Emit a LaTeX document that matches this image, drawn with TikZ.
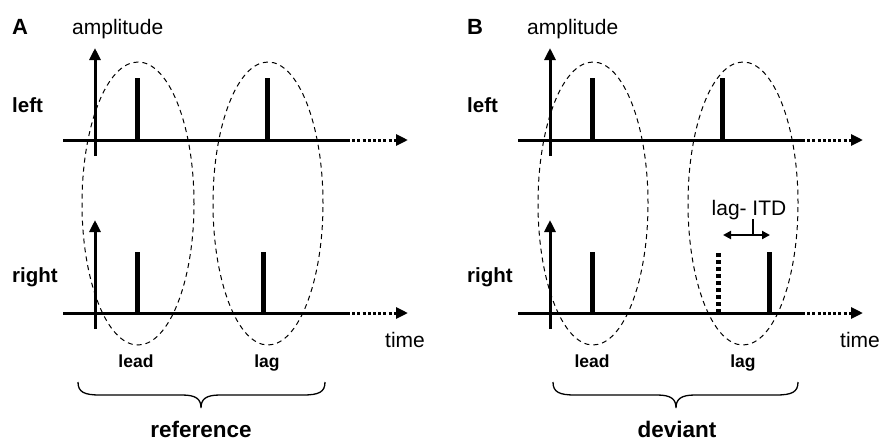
\documentclass[tikz,border=0pt]{standalone}
\usepackage{fontspec}
\setmainfont{Liberation Sans}
\usetikzlibrary{arrows.meta}
\begin{document}
\begin{tikzpicture}[x=1pt,y=-1pt,
  axis/.style={line width=3pt},
  dotline/.style={line width=3pt, dash pattern=on 3pt off 2.2pt},
  tipped/.style={-{Triangle[length=12pt,width=11pt]}},
  spike/.style={line width=5pt},
  dotspike/.style={line width=5pt, dash pattern=on 4pt off 3pt},
  oval/.style={line width=1pt, dash pattern=on 5pt off 4pt},
  bracepath/.style={line width=1.3pt},
  txt/.style={inner sep=0pt, font=\fontsize{21}{25}\selectfont},
  rowlab/.style={inner sep=0pt, font=\fontsize{20.5}{25}\selectfont\bfseries, anchor=base west},
  panlab/.style={inner sep=0pt, font=\fontsize{22}{26}\selectfont\bfseries, anchor=base west},
  winlab/.style={inner sep=0pt, font=\fontsize{17.5}{21}\selectfont\bfseries, anchor=base},
  caplab/.style={inner sep=0pt, font=\fontsize{22.5}{27}\selectfont\bfseries, anchor=base},
]
\useasboundingbox (0,0) rectangle (880,440);

% ---------- common axes for both panels ----------
\foreach \dx in {0,455} {
  \begin{scope}[xshift=\dx pt]
    % top row
    \draw[axis] (63,140) -- (347,140);
    \draw[dotline,tipped] (347,140) -- (408,140);
    \draw[axis,tipped] (95,156) -- (95,48);
    % bottom row
    \draw[axis] (63,313) -- (347,313);
    \draw[dotline,tipped] (347,313) -- (408,313);
    \draw[axis,tipped] (95,329) -- (95,220);
  \end{scope}
}

% ---------- Panel A ----------
\draw[oval] (138,203.5) ellipse [x radius=56pt, y radius=141.5pt];
\draw[oval] (268,203.5) ellipse [x radius=55pt, y radius=141.5pt];
\draw[spike] (137,140) -- (137,78);
\draw[spike] (267,140) -- (267,78);
\draw[spike] (137,313) -- (137,252);
\draw[spike] (263,313) -- (263,252);

\node[panlab] (labA) at (12,34) {A};
\node[txt, anchor=base west] (ampA) at (72,34) {amplitude};
\node[rowlab] (leftA) at (12,112) {left};
\node[rowlab] (rightA) at (12,282) {right};
\node[txt, anchor=base west] (timeA) at (385,347) {time};
\node[winlab] (leadA) at (136,367) {lead};
\node[winlab] (lagA) at (267,367) {lag};
\draw[bracepath] (78,382) .. controls (78,392) and (84,395) .. (100,395)
  -- (182,395) .. controls (196,395) and (201,399) .. (201,408)
  .. controls (201,399) and (206,395) .. (220,395)
  -- (303,395) .. controls (319,395) and (325,392) .. (325,382);
\node[caplab] (refA) at (201,437) {reference};

% ---------- Panel B ----------
\draw[oval] (593,203.5) ellipse [x radius=55pt, y radius=141.5pt];
\draw[oval] (743,203.5) ellipse [x radius=55pt, y radius=141.5pt];
\draw[spike] (592,140) -- (592,78);
\draw[spike] (722,140) -- (722,78);
\draw[spike] (592,313) -- (592,252);
\draw[dotspike] (718,313) -- (718,252);
\draw[spike] (769,313) -- (769,252);

\node[panlab] (labB) at (467,34) {B};
\node[txt, anchor=base west] (ampB) at (527,34) {amplitude};
\node[rowlab] (leftB) at (467,112) {left};
\node[rowlab] (rightB) at (467,282) {right};
\node[txt, anchor=base west] (timeB) at (840,347) {time};
\node[winlab] (leadB) at (592,367) {lead};
\node[winlab] (lagB) at (743,367) {lag};
\draw[bracepath] (553,382) .. controls (553,392) and (559,395) .. (575,395)
  -- (657,395) .. controls (671,395) and (676,399) .. (676,408)
  .. controls (676,399) and (681,395) .. (695,395)
  -- (776,395) .. controls (792,395) and (798,392) .. (798,382);
\node[caplab] (devB) at (677,437) {deviant};

% lag-ITD marker
\node[txt, anchor=base] (itd) at (749,215) {lag- ITD};
\coordinate (itdL) at (723,235);
\coordinate (itdR) at (770,235);
\coordinate (itdM) at (753,235);
\draw[line width=2pt, {Triangle[length=8pt,width=8pt]}-{Triangle[length=8pt,width=8pt]}] (itdL) -- (itdR);
\draw[line width=1.5pt] (itdM) -- (753,219);
\end{tikzpicture}
\end{document}
